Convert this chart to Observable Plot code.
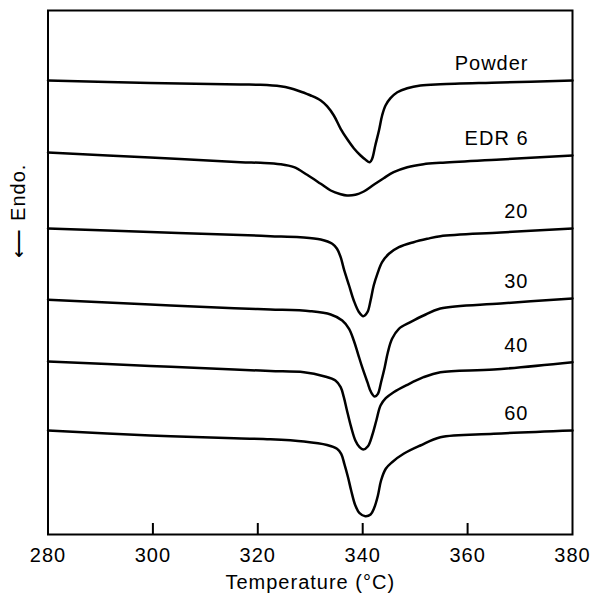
<!DOCTYPE html>
<html><head><meta charset="utf-8">
<script src="https://cdn.jsdelivr.net/npm/d3@7"></script>
<script src="https://cdn.jsdelivr.net/npm/@observablehq/plot@0.6"></script>
<style>body{margin:0;background:#fff;}</style>
</head><body><div id="chart"></div>
<script>
// DSC traces: [temperature °C, signal (arbitrary units, endotherm downward)]
const powder = [[280.0,45.40],[299.5,45.15],[316.7,45.00],[320.5,44.97],[324.3,44.83],[326.2,44.63],[328.1,44.30],[330.1,43.90],[332.0,43.40],[333.2,42.83],[334.5,41.90],[335.8,40.57],[337.0,39.57],[338.3,38.63],[339.6,37.90],[340.5,37.50],[341.35,37.23],[341.8,37.57],[342.4,38.90],[343.1,40.40],[343.7,41.90],[344.35,42.90],[345.3,43.63],[346.6,44.23],[348.5,44.63],[351.0,44.90],[354.8,45.03],[366.3,45.20],[380.0,45.40]];
const edr6 = [[280.0,38.20],[299.5,37.70],[316.7,37.23],[320.5,37.17],[324.3,37.03],[326.9,36.73],[329.4,35.97],[332.0,35.07],[333.9,34.40],[335.8,34.03],[337.0,33.90],[338.6,33.97],[340.2,34.30],[342.1,34.97],[344.0,35.63],[345.9,36.23],[348.5,36.73],[351.6,37.03],[354.8,37.17],[366.3,37.50],[380.0,37.90]];
const edr20 = [[280.0,30.60],[299.5,30.25],[316.7,29.95],[322.4,29.83],[328.1,29.72],[332.0,29.50],[334.2,29.07],[335.1,28.57],[335.8,27.73],[336.4,26.57],[337.4,24.90],[338.3,23.40],[339.3,22.23],[340.1,21.83],[340.9,22.23],[341.5,23.40],[342.1,24.90],[342.8,26.07],[343.7,27.23],[345.0,28.07],[346.9,28.73],[349.7,29.23],[352.3,29.57],[354.8,29.83],[366.3,30.20],[380.0,30.60]];
const edr30 = [[280.0,23.47],[299.5,23.00],[315.5,22.62],[322.4,22.50],[330.0,22.33],[333.9,22.00],[336.1,21.40],[337.4,20.57],[338.3,19.40],[339.1,18.07],[339.9,16.73],[340.9,15.23],[341.6,14.23],[342.3,13.80],[342.9,14.07],[343.5,15.23],[344.2,16.73],[344.8,18.23],[345.6,19.57],[346.9,20.57],[349.1,21.23],[351.6,21.90],[354.8,22.60],[366.3,23.10],[380.0,23.60]];
const edr40 = [[280.0,17.30],[299.5,16.85],[315.5,16.50],[322.4,16.35],[328.8,16.23],[332.6,15.83],[334.8,15.40],[335.8,14.73],[336.4,13.73],[337.0,12.40],[337.8,10.73],[338.6,9.40],[339.4,8.73],[340.1,8.50],[341.0,8.83],[341.8,9.90],[342.6,11.40],[343.4,12.90],[344.4,13.63],[345.9,14.23],[348.5,14.97],[351.6,15.73],[354.8,16.23],[365.0,16.50],[380.0,17.23]];
const edr60 = [[280.0,10.40],[299.5,9.90],[315.5,9.62],[322.4,9.52],[328.8,9.30],[333.2,8.95],[335.1,8.57],[335.9,8.07],[336.5,7.07],[337.2,5.73],[337.8,4.40],[338.6,2.90],[339.4,2.13],[340.5,1.83],[341.5,2.00],[342.2,2.67],[342.9,3.90],[343.5,5.40],[344.4,6.57],[345.6,7.23],[347.8,8.07],[351.0,8.90],[354.8,9.73],[365.0,10.07],[380.0,10.40]];

const seriesNames = ["Powder", "EDR 6", "20", "30", "40", "60"];
const xTicks = [280, 300, 320, 340, 360, 380];
const xLabel = "Temperature (°C)";
const yLabel = "⟵ Endo.";

const seriesData = [powder, edr6, edr20, edr30, edr40, edr60];
const rows = seriesData.flatMap((s, i) => s.map(([t, v]) => ({series: seriesNames[i], t, v})));

const chart = Plot.plot({
  width: 594, height: 599,
  marginTop: 10, marginBottom: 65, marginLeft: 47.5, marginRight: 22,
  style: {fontFamily: '"Liberation Sans", Arial, sans-serif', fontSize: "20px", background: "#fff", color: "#000", letterSpacing: "1px"},
  x: {domain: [280, 380]},
  y: {domain: [0, 52.4], axis: null},
  marks: [
    Plot.frame({stroke: "#000", strokeWidth: 2}),
    Plot.ruleX(xTicks.slice(1, -1), {x: d => d, insetTop: 513, stroke: "#000", strokeWidth: 2}),
    Plot.axisX(xTicks, {tickSize: 0, tickPadding: 13, tickFormat: d => String(d), label: null, fill: "#000"}),
    Plot.lineY(rows, {x: "t", y: "v", z: "series", stroke: "#000", strokeWidth: 2.5, curve: "catmull-rom"}),
    Plot.text(rows, Plot.selectLast({x: "t", y: "v", z: "series", text: "series", textAnchor: "end", dx: -44, dy: -17, fill: "#000"})),
    Plot.text([xLabel], {frameAnchor: "bottom", dy: 54, text: d => d, fill: "#000"}),
    Plot.text([yLabel], {frameAnchor: "left", dx: -29.5, dy: -15, rotate: -90, text: d => d, fill: "#000"})
  ]
});
document.getElementById("chart").appendChild(chart);
</script>
</body></html>
